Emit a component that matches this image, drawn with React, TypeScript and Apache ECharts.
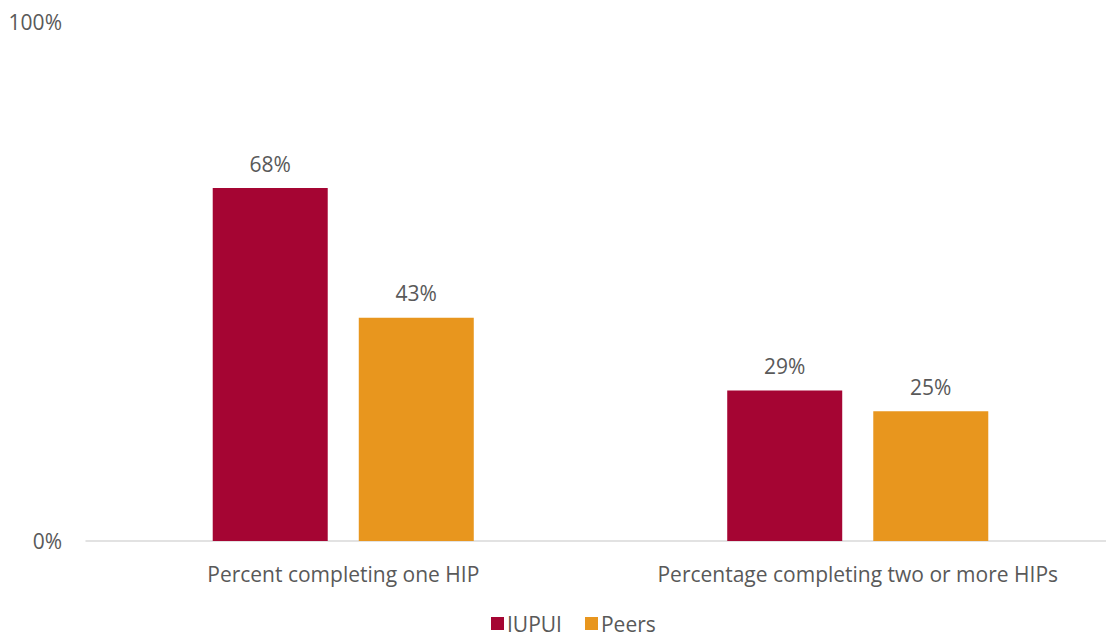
import React, { useEffect, useRef } from "react";
import * as echarts from "echarts";

const categories = ["Percent completing one HIP", "Percentage completing two or more HIPs"];
const seriesNames = ["IUPUI", "Peers"];
const iupuiValues = [68, 29];
const peersValues = [43, 25];
const yTicks = [0, 100];

const FONT = "'Open Sans', 'Noto Sans', sans-serif";
const TEXT = "#595959";
const FS = 21;

export default function App() {
  const ref = useRef<HTMLDivElement>(null);
  useEffect(() => {
    if (!ref.current) return;
    const chart = echarts.init(ref.current, undefined, { renderer: "svg" });
    const label = {
      show: true,
      position: "top",
      distance: 14,
      color: TEXT,
      fontSize: FS,
      fontFamily: FONT,
      formatter: (p: any) => p.value + "%",
    };
    chart.setOption({
      animation: false,
      backgroundColor: "#fff",
      textStyle: { fontFamily: FONT },
      grid: { left: 86, right: 0, top: 22, bottom: 93, containLabel: false },
      legend: {
        data: seriesNames,
        left: 491,
        top: 613,
        padding: 0,
        itemWidth: 13,
        itemHeight: 13,
        itemGap: 23,
        icon: "rect",
        textStyle: {
          color: TEXT,
          fontSize: FS,
          lineHeight: 20,
          fontFamily: FONT,
          padding: [0, 0, 0, -2],
        },
      },
      xAxis: {
        type: "category",
        data: categories,
        axisLine: { lineStyle: { color: "#D9D9D9", width: 1.5 } },
        axisTick: { show: false },
        axisLabel: { color: TEXT, fontSize: FS, fontFamily: FONT, margin: 22, interval: 0 },
      },
      yAxis: {
        type: "value",
        min: yTicks[0],
        max: yTicks[1],
        interval: yTicks[1] - yTicks[0],
        splitLine: { show: false },
        axisLine: { show: false },
        axisTick: { show: false },
        axisLabel: {
          color: TEXT,
          fontSize: FS,
          fontFamily: FONT,
          margin: 24,
          formatter: (v: number) => v + "%",
        },
      },
      series: [
        {
          name: seriesNames[0],
          type: "bar",
          data: iupuiValues,
          barWidth: 115,
          barGap: "27%",
          itemStyle: { color: "#A50533" },
          label,
        },
        {
          name: seriesNames[1],
          type: "bar",
          data: peersValues,
          barWidth: 115,
          barGap: "27%",
          itemStyle: { color: "#E8961E" },
          label,
        },
      ],
    });
    return () => chart.dispose();
  }, []);
  return (
    <div
      ref={ref}
      style={{ position: "fixed", left: 0, top: 0, width: 1115, height: 634 }}
    />
  );
}
